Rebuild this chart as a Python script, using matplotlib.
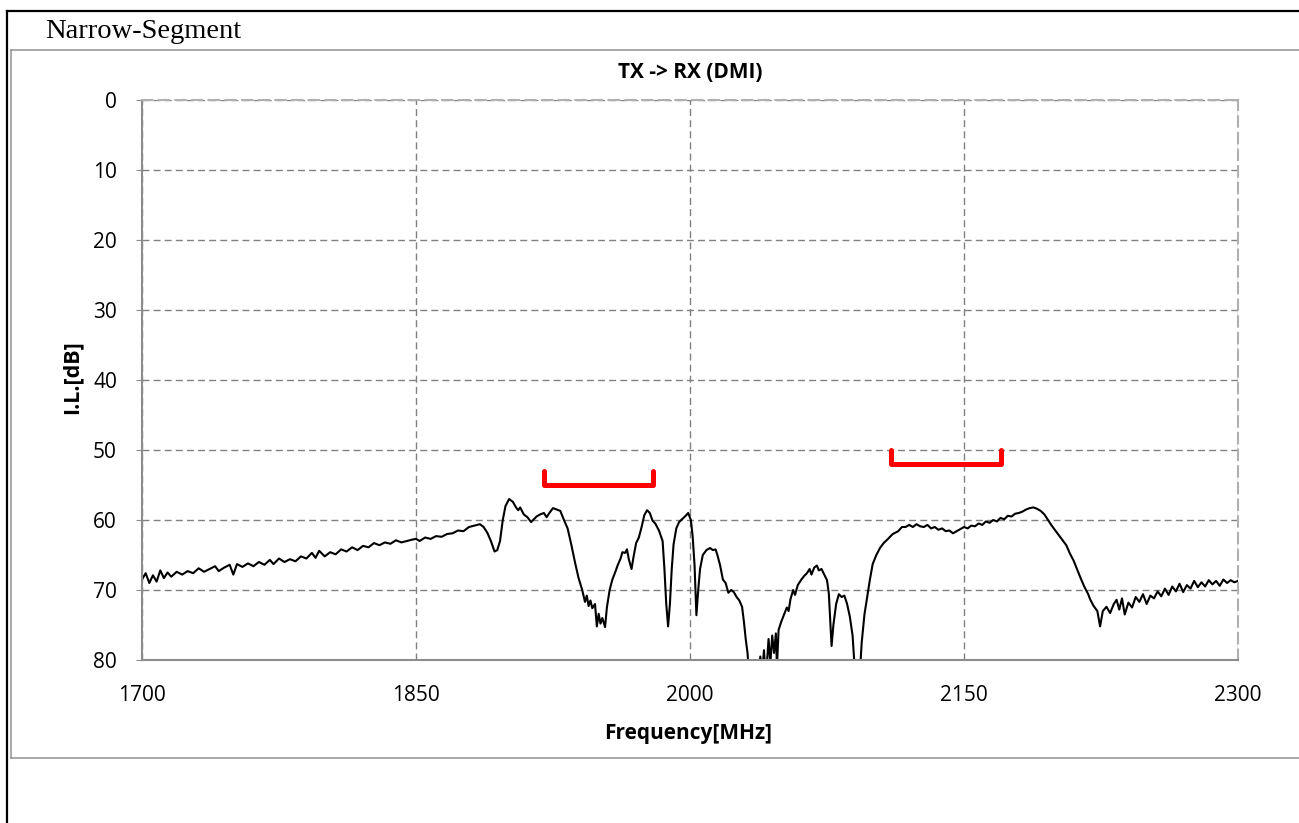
import matplotlib
matplotlib.use("Agg")
import matplotlib.pyplot as plt
from matplotlib.lines import Line2D

freq = [1700, 1702, 1704, 1706, 1708, 1710, 1712, 1714, 1716, 1719, 1722, 1725, 1728, 1731, 1734,
        1737, 1740, 1742, 1745, 1748, 1750, 1752, 1755, 1758, 1761, 1764, 1767, 1770, 1772, 1775,
        1778, 1781, 1784, 1787, 1790, 1793, 1795, 1797, 1800, 1803, 1806, 1809, 1812, 1815, 1818,
        1821, 1824, 1827, 1830, 1833, 1836, 1839, 1842, 1845, 1848, 1850, 1852, 1855, 1858, 1861,
        1864, 1867, 1870, 1873, 1876, 1879, 1882, 1885, 1887, 1889, 1891, 1893, 1894.5, 1896, 1897.5,
        1899, 1901, 1903, 1905, 1906, 1907, 1909, 1911, 1913, 1914.5, 1916, 1918, 1920, 1921.5, 1923,
        1925, 1927, 1929, 1931, 1933, 1935, 1937, 1939, 1941, 1942.5, 1943.5, 1944.5, 1945.5, 1946.5, 1948,
        1949, 1950, 1951, 1952, 1953.5, 1954.5, 1956, 1957.5, 1959, 1960.5, 1962, 1963, 1964.5, 1965.5, 1966.5,
        1968, 1969, 1970.5, 1972, 1973.5, 1975, 1976.5, 1978, 1979.5, 1981, 1983, 1985, 1986, 1987, 1988,
        1989, 1990, 1991, 1992.5, 1994, 1996, 1998, 1999, 2000.5, 2001.5, 2002.5, 2003.5, 2004.5, 2005.5, 2007,
        2009, 2011, 2012.5, 2014, 2015, 2016.5, 2018, 2019.5, 2021, 2022.5, 2024, 2025.5, 2027, 2028.5, 2029.5,
        2030.5, 2031.5, 2032.5, 2034, 2035, 2037, 2038.5, 2039.5, 2040.5, 2041.5, 2043, 2044, 2045, 2046, 2047,
        2047.6, 2048.5, 2050, 2051.5, 2053, 2054, 2055, 2056.5, 2057.5, 2059, 2061, 2062.5, 2064, 2065.5, 2066.5,
        2068, 2069.5, 2070.5, 2072, 2073.5, 2075, 2076, 2077.5, 2078.5, 2080, 2081.5, 2083, 2084.5, 2086, 2087.5,
        2089, 2090, 2091, 2092.5, 2094, 2095.5, 2097, 2098.5, 2100, 2102, 2104, 2106, 2108, 2111, 2114,
        2116, 2118, 2120, 2122, 2124, 2126, 2128, 2130, 2132, 2134, 2136, 2138, 2140, 2142, 2144,
        2146, 2148, 2150, 2152, 2154, 2156, 2158, 2160, 2162, 2164, 2166, 2168, 2170, 2172, 2174,
        2176, 2178, 2180, 2182, 2184, 2186, 2188, 2190, 2192, 2194, 2196, 2198, 2200, 2202, 2204,
        2206, 2208, 2210, 2212, 2214, 2216, 2218, 2219, 2221, 2223, 2224.5, 2226, 2228, 2230, 2232,
        2233.5, 2235, 2236.5, 2238, 2240, 2242, 2244, 2246, 2248, 2250, 2252, 2254, 2256, 2258, 2260,
        2262, 2264, 2266, 2268, 2270, 2272, 2274, 2276, 2278, 2280, 2282, 2284, 2286, 2288, 2290,
        2292, 2294, 2296, 2298, 2300]
il_db = [68.5, 67.6, 69.0, 67.9, 68.8, 67.2, 68.3, 67.5, 68.1, 67.4, 67.8, 67.3, 67.6, 66.9, 67.4,
         67.0, 66.6, 67.3, 66.8, 66.4, 67.8, 66.3, 66.7, 66.2, 66.6, 66.0, 66.4, 65.7, 66.3, 65.5,
         66.0, 65.6, 65.9, 65.2, 65.5, 64.7, 65.4, 64.4, 65.2, 64.6, 64.9, 64.2, 64.5, 63.9, 64.3,
         63.7, 63.9, 63.3, 63.6, 63.2, 63.4, 62.9, 63.2, 63.0, 62.8, 62.7, 63.0, 62.5, 62.7, 62.3,
         62.4, 62.0, 61.9, 61.5, 61.6, 61.0, 60.8, 60.6, 61.0, 61.8, 63.0, 64.5, 64.3, 63.0, 60.0,
         58.0, 57.0, 57.4, 58.3, 58.6, 58.2, 59.2, 59.6, 60.3, 59.9, 59.5, 59.2, 59.0, 59.6, 59.0,
         58.3, 58.5, 58.7, 60.0, 61.2, 63.5, 66.0, 68.3, 70.0, 71.7, 70.8, 72.3, 71.5, 72.6, 72.0,
         75.2, 73.4, 74.8, 74.0, 75.3, 72.5, 70.0, 68.5, 67.5, 66.4, 65.5, 64.6, 64.7, 64.2, 65.6,
         67.0, 65.4, 63.3, 62.5, 61.0, 59.3, 58.6, 59.0, 60.1, 60.5, 61.5, 63.0, 67.0, 72.0, 75.2,
         72.0, 67.0, 63.5, 61.2, 60.3, 59.8, 59.3, 59.0, 60.0, 62.5, 66.5, 73.6, 70.0, 67.0, 65.0,
         64.3, 64.0, 64.3, 64.2, 65.0, 66.5, 68.5, 69.0, 70.4, 70.0, 70.3, 71.0, 71.5, 72.4, 74.5,
         77.0, 79.0, 83.0, 81.0, 85.0, 84.0, 79.5, 82.0, 78.6, 83.0, 77.0, 80.5, 76.5, 79.0, 76.2,
         81.0, 75.7, 74.5, 73.5, 72.5, 73.0, 71.3, 70.0, 70.7, 69.3, 68.5, 68.0, 67.6, 67.0, 67.8,
         66.8, 66.5, 67.2, 67.0, 67.8, 68.6, 70.5, 78.0, 75.0, 72.0, 70.6, 71.0, 70.8, 72.0, 73.8,
         76.5, 80.5, 86.0, 84.0, 77.5, 73.5, 71.0, 68.5, 66.3, 65.0, 64.0, 63.3, 62.8, 62.0, 61.6,
         61.0, 61.0, 60.7, 61.0, 60.6, 60.9, 61.0, 60.7, 61.2, 61.0, 61.4, 61.2, 61.6, 61.5, 61.9,
         61.6, 61.3, 61.0, 61.2, 60.8, 60.9, 60.5, 60.7, 60.2, 60.4, 60.0, 60.2, 59.7, 59.9, 59.4,
         59.5, 59.1, 59.0, 58.8, 58.5, 58.3, 58.2, 58.4, 58.7, 59.2, 60.0, 60.8, 61.5, 62.2, 62.9,
         63.6, 64.8, 65.8, 67.1, 68.4, 69.6, 70.6, 71.3, 72.3, 73.0, 75.2, 73.0, 72.4, 73.3, 72.0,
         71.4, 72.8, 71.2, 73.5, 71.8, 72.5, 71.0, 71.7, 70.6, 72.0, 70.8, 71.2, 70.2, 70.9, 69.8,
         70.7, 69.5, 70.2, 69.1, 70.3, 69.3, 69.8, 68.7, 69.6, 68.9, 69.5, 68.6, 69.2, 68.7, 69.4,
         68.5, 69.0, 68.6, 68.9, 68.7]

# spec brackets: (start MHz, stop MHz, limit dB, tip dB)
band_lo = [1920, 2110]
band_hi = [1980, 2170]
band_limit = [55, 52]
band_tip = [53, 50]

xticks = [1700, 1850, 2000, 2150, 2300]
yticks = [0, 10, 20, 30, 40, 50, 60, 70, 80]

sans = ["Open Sans", "DejaVu Sans"]
W, H = 1299, 823

fig = plt.figure(figsize=(W / 100, H / 100), dpi=100)
fig.patch.set_facecolor("white")

# outer frame + chart box
fig.add_artist(Line2D([7 / W, 1], [1 - 11 / H, 1 - 11 / H], color="black", lw=1.6))
fig.add_artist(Line2D([7 / W, 7 / W], [0, 1 - 11 / H], color="black", lw=1.6))
fig.add_artist(Line2D([11 / W, 1], [1 - 50 / H, 1 - 50 / H], color="#999999", lw=1.2))
fig.add_artist(Line2D([11 / W, 11 / W], [1 - 758 / H, 1 - 50 / H], color="#999999", lw=1.2))
fig.add_artist(Line2D([11 / W, 1], [1 - 758 / H, 1 - 758 / H], color="#999999", lw=1.2))
fig.text(45 / W, 1 - 32 / H, "Narrow-Segment", family="Liberation Serif", fontsize=20.5,
         va="center", ha="left")

ax = fig.add_axes([142 / W, 1 - 660 / H, (1238 - 142) / W, (660 - 100) / H])
ax.plot(freq, il_db, color="black", lw=1.5)

for lo, hi, lim, tip in zip(band_lo, band_hi, band_limit, band_tip):
    ax.plot([lo, lo, hi, hi], [tip, lim, lim, tip], color="#ff0000", lw=3.6,
            solid_capstyle="round", solid_joinstyle="round")

ax.set_xlim(1700, 2300)
ax.set_ylim(80, 0)
ax.set_xticks(xticks)
ax.set_yticks(yticks)
ax.grid(True, color="#808080", linestyle=(0, (5, 3)), lw=1.0)

for s in ["left", "bottom"]:
    ax.spines[s].set_color("#8c8c8c")
    ax.spines[s].set_linewidth(1.5)
for s in ["top", "right"]:
    ax.spines[s].set_color("#b0b0b0")
    ax.spines[s].set_linestyle((0, (5, 3)))
    ax.spines[s].set_linewidth(1.5)

ax.tick_params(axis="y", length=4, color="#8c8c8c", pad=14, labelsize=15)
ax.tick_params(axis="x", length=0, pad=18, labelsize=15)
for lab in ax.get_xticklabels() + ax.get_yticklabels():
    lab.set_family(sans)

fig.text(690 / W, 1 - 73 / H, "TX -> RX (DMI)", family=sans, fontsize=15,
         fontweight="bold", ha="center", va="center")
fig.text(688 / W, 1 - 734 / H, "Frequency[MHz]", family=sans, fontsize=15,
         fontweight="bold", ha="center", va="center")
fig.text(72 / W, 1 - 377 / H, "I.L.[dB]", family=sans, fontsize=15.5,
         fontweight="bold", ha="center", va="center", rotation=90)

fig.savefig("out.png", dpi=100)
